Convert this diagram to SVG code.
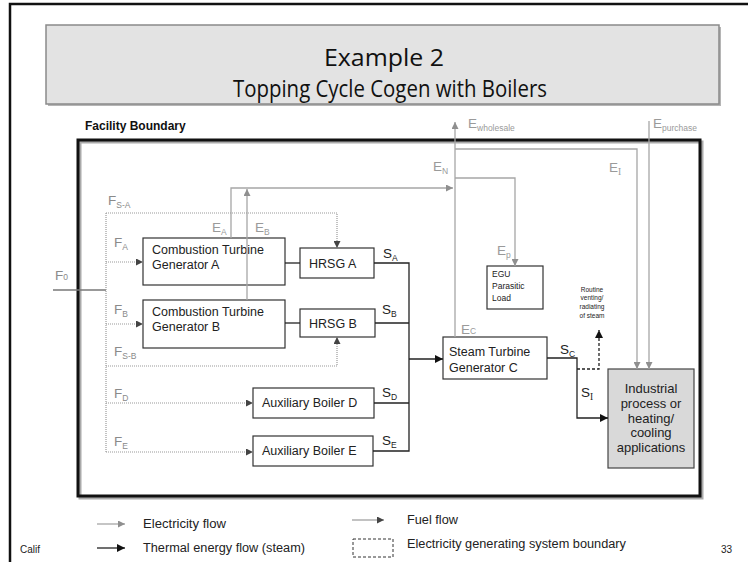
<svg xmlns="http://www.w3.org/2000/svg" width="748" height="562" viewBox="0 0 748 562">
<style>
.box{fill:#fff;stroke:#333;stroke-width:1.2}
.bt{font-family:"Liberation Sans",Arial,sans-serif;font-size:12.5px;fill:#222}
.el{fill:none;stroke:#a6a6a6;stroke-width:1.3}
.fu{fill:none;stroke:#9a9a9a;stroke-width:1.2;stroke-dasharray:1 1}
.th{fill:none;stroke:#222;stroke-width:1.3}
.lab{font-family:"Liberation Sans",Arial,sans-serif;font-size:13.5px}
.sub{font-size:8.5px}
.eg{fill:#9a9a9a}
.fg{fill:#8a8a8a}
.sg{fill:#222}
.lg{font-family:"Liberation Sans",Arial,sans-serif;font-size:12px;fill:#222}
</style>
<defs>
<marker id="ae" viewBox="0 0 10 10" refX="10" refY="5" markerWidth="8" markerHeight="7" markerUnits="userSpaceOnUse" orient="auto"><path d="M0,0L10,5L0,10z" fill="#8f8f8f"/></marker>
<marker id="af" viewBox="0 0 10 10" refX="10" refY="5" markerWidth="7" markerHeight="7" markerUnits="userSpaceOnUse" orient="auto"><path d="M0,0L10,5L0,10z" fill="#444"/></marker>
<marker id="at" viewBox="0 0 10 10" refX="10" refY="5" markerWidth="9" markerHeight="8" markerUnits="userSpaceOnUse" orient="auto"><path d="M0,0L10,5L0,10z" fill="#111"/></marker>
</defs>
<rect width="748" height="562" fill="#fff"/>
<path d="M10,562V4H748" fill="none" stroke="#111" stroke-width="2.5"/>

<g id="title">
<rect x="48" y="27" width="673" height="79" fill="#b5b5b5"/>
<rect x="46" y="25" width="673" height="79" fill="#e3e3e3" stroke="#8a8a8a" stroke-width="1.5"/>
<text x="384" y="66" text-anchor="middle" font-family="'Open Sans',sans-serif" font-size="24" fill="#111" textLength="120" lengthAdjust="spacingAndGlyphs">Example 2</text>
<text x="390" y="97" text-anchor="middle" font-family="'Open Sans',sans-serif" font-size="24" fill="#111" textLength="314" lengthAdjust="spacingAndGlyphs">Topping Cycle Cogen with Boilers</text>
</g>

<g id="facility-boundary">
<rect x="80" y="142" width="622" height="356" fill="none" stroke="#aaa" stroke-width="3"/>
<rect x="78" y="140" width="622" height="356" fill="none" stroke="#111" stroke-width="3"/>
<text x="85" y="130" font-family="'Liberation Sans',Arial,sans-serif" font-size="12" font-weight="bold" fill="#111">Facility Boundary</text>
</g>

<g id="ctg-a"><rect class="box" x="143" y="238" width="142" height="47"/><text class="bt" x="152" y="254">Combustion Turbine</text><text class="bt" x="152" y="269">Generator  A</text></g>
<g id="ctg-b"><rect class="box" x="143" y="300" width="142" height="48"/><text class="bt" x="152" y="316">Combustion Turbine</text><text class="bt" x="152" y="331">Generator  B</text></g>
<g id="hrsg-a"><rect class="box" x="300" y="248" width="74" height="30"/><text class="bt" x="309" y="268">HRSG A</text></g>
<g id="hrsg-b"><rect class="box" x="300" y="309" width="75" height="28"/><text class="bt" x="309" y="328">HRSG B</text></g>
<g id="aux-d"><rect class="box" x="253" y="388" width="121" height="30"/><text class="bt" x="262" y="407">Auxiliary Boiler D</text></g>
<g id="aux-e"><rect class="box" x="253" y="436" width="120" height="30"/><text class="bt" x="262" y="455">Auxiliary Boiler E</text></g>
<g id="stg-c"><rect class="box" x="443" y="337" width="104" height="42"/><text class="bt" x="449" y="356">Steam Turbine</text><text class="bt" x="449" y="372">Generator  C</text></g>
<g id="egu"><rect class="box" x="487" y="266" width="56" height="43"/>
<text font-family="'Liberation Sans',Arial,sans-serif" font-size="8.5" fill="#222"><tspan x="492" y="277">EGU</tspan><tspan x="492" y="289">Parasitic</tspan><tspan x="492" y="301">Load</tspan></text></g>
<g id="industrial"><rect x="608" y="369" width="86" height="99" fill="#d9d9d9" stroke="#444" stroke-width="1.2"/>
<text font-family="'Liberation Sans',Arial,sans-serif" font-size="13" fill="#222" text-anchor="middle"><tspan x="651" y="393">Industrial</tspan><tspan x="651" y="408">process or</tspan><tspan x="651" y="423">heating/</tspan><tspan x="651" y="437">cooling</tspan><tspan x="651" y="452">applications</tspan></text></g>
<g id="venting"><text font-family="'Liberation Sans',Arial,sans-serif" font-size="6.5" fill="#222" text-anchor="middle"><tspan x="592" y="292">Routine</tspan><tspan x="592" y="300">venting/</tspan><tspan x="592" y="309">radiating</tspan><tspan x="592" y="318">of steam</tspan></text></g>

<g id="connectors">
<path class="el" d="M231,238V188H453" marker-end="url(#ae)"/>
<path class="el" d="M247,300V189" marker-end="url(#ae)"/>
<path class="el" d="M455,337V122" marker-end="url(#ae)"/>
<path class="el" d="M455,149H637V369" marker-end="url(#ae)"/>
<path class="el" d="M455,178H515V266" marker-end="url(#ae)"/>
<path class="el" d="M649,121V369" marker-end="url(#ae)"/>
<path d="M53,290H106" fill="none" stroke="#777" stroke-width="1.3"/>
<path class="fu" d="M106,213V452"/>
<path class="fu" d="M106,213H337V248" marker-end="url(#af)"/>
<path class="fu" d="M106,262H143" marker-end="url(#af)"/>
<path class="fu" d="M106,324H143" marker-end="url(#af)"/>
<path class="fu" d="M106,366H337V337" marker-end="url(#af)"/>
<path class="fu" d="M106,403H253" marker-end="url(#af)"/>
<path class="fu" d="M106,452H253" marker-end="url(#af)"/>
<path class="th" d="M285,263H300"/>
<path class="th" d="M285,323H300"/>
<path class="th" d="M374,263H409V451H373"/>
<path class="th" d="M375,323H409"/>
<path class="th" d="M374,403H409"/>
<path class="th" d="M409,359H443" stroke-width="1.8" marker-end="url(#at)"/>
<path class="th" d="M547,358H577V418H608" marker-end="url(#at)"/>
<path class="th" d="M577,369H599V330" stroke-dasharray="3 2" marker-end="url(#at)"/>
</g>

<g id="labels" class="lab">
<text x="55" y="280" class="fg">F<tspan class="sub">0</tspan></text>
<text x="108" y="205" class="fg">F<tspan class="sub" dy="3">S-A</tspan></text>
<text x="114" y="247" class="fg">F<tspan class="sub" dy="3">A</tspan></text>
<text x="114" y="314" class="fg">F<tspan class="sub" dy="3">B</tspan></text>
<text x="114" y="356" class="fg">F<tspan class="sub" dy="3">S-B</tspan></text>
<text x="114" y="398" class="fg">F<tspan class="sub" dy="3">D</tspan></text>
<text x="114" y="446" class="fg">F<tspan class="sub" dy="3">E</tspan></text>
<text x="212" y="232" class="eg">E<tspan class="sub" dy="3">A</tspan></text>
<text x="255" y="232" class="eg">E<tspan class="sub" dy="3">B</tspan></text>
<text x="468" y="128" class="eg">E<tspan class="sub" dy="3">wholesale</tspan></text>
<text x="653" y="128" class="eg">E<tspan class="sub" dy="3">purchase</tspan></text>
<text x="433" y="171" class="eg">E<tspan class="sub" dy="3">N</tspan></text>
<text x="609" y="172" class="eg">E<tspan dy="3" font-family="'Liberation Serif',serif" font-size="9.5">I</tspan></text>
<text x="497" y="255" class="eg">E<tspan class="sub" dy="3">p</tspan></text>
<text x="461" y="334" class="eg">E<tspan class="sub">C</tspan></text>
<text x="383" y="258" class="sg">S<tspan class="sub" dy="3">A</tspan></text>
<text x="382" y="314" class="sg">S<tspan class="sub" dy="3">B</tspan></text>
<text x="382" y="397" class="sg">S<tspan class="sub" dy="3">D</tspan></text>
<text x="382" y="445" class="sg">S<tspan class="sub" dy="3">E</tspan></text>
<text x="560" y="354" class="sg">S<tspan class="sub" dy="3">C</tspan></text>
<text x="581" y="397" class="sg">S<tspan dy="3" font-family="'Liberation Serif',serif" font-size="9.5">I</tspan></text>
</g>

<g id="legend">
<path class="el" d="M97,524H125" marker-end="url(#ae)"/>
<text class="lg" x="143" y="528" textLength="83" lengthAdjust="spacingAndGlyphs">Electricity flow</text>
<path class="th" d="M97,548H125" stroke-width="1.6" marker-end="url(#at)"/>
<text class="lg" x="143" y="552" textLength="162" lengthAdjust="spacingAndGlyphs">Thermal  energy flow (steam)</text>
<path d="M352,520H384" fill="none" stroke="#999" stroke-width="1.2" marker-end="url(#af)"/>
<text class="lg" x="407" y="524" textLength="51" lengthAdjust="spacingAndGlyphs">Fuel flow</text>
<rect x="353" y="539" width="40" height="18" fill="none" stroke="#333" stroke-width="1" stroke-dasharray="3 2"/>
<text class="lg" x="407" y="548" textLength="219" lengthAdjust="spacingAndGlyphs">Electricity generating  system boundary</text>
<text x="20" y="553" font-family="'Liberation Sans',Arial,sans-serif" font-size="10" fill="#222">Calif</text>
<text x="721" y="553" font-family="'Liberation Sans',Arial,sans-serif" font-size="10" fill="#222">33</text>
</g>
</svg>
